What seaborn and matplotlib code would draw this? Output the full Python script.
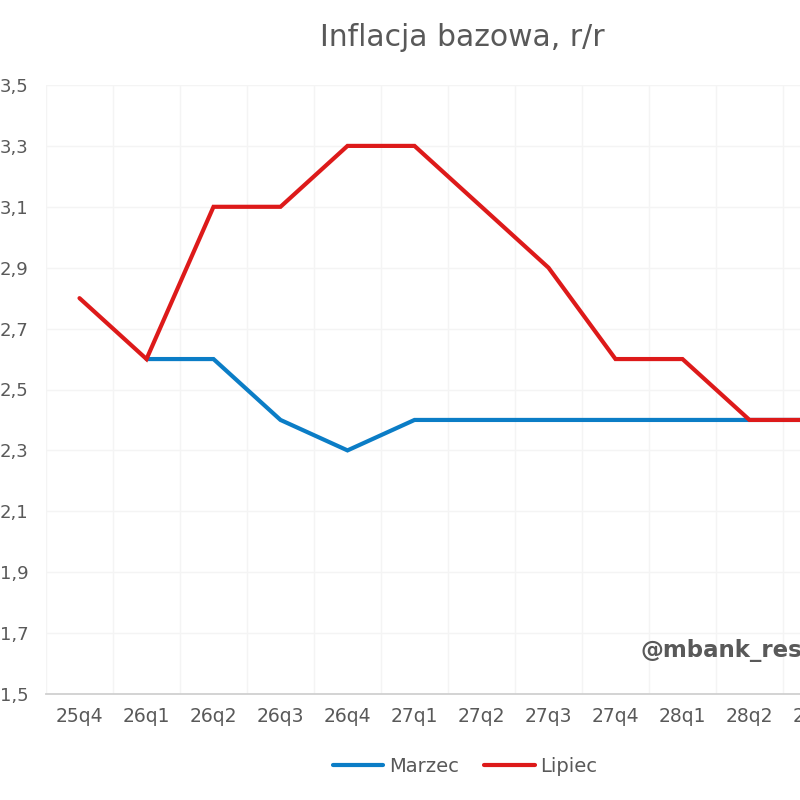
import matplotlib
matplotlib.use("Agg")
import matplotlib.pyplot as plt
import seaborn as sns
import pandas as pd
import numpy as np
from matplotlib.ticker import FixedLocator, FixedFormatter
from matplotlib.lines import Line2D

categories = ["25q4", "26q1", "26q2", "26q3", "26q4", "27q1", "27q2",
              "27q3", "27q4", "28q1", "28q2", "28q3"]
marzec = [np.nan, 2.6, 2.6, 2.4, 2.3, 2.4, 2.4, 2.4, 2.4, 2.4, 2.4, 2.4]
lipiec = [2.8, 2.6, 3.1, 3.1, 3.3, 3.3, 3.1, 2.9, 2.6, 2.6, 2.4, 2.4]
y_ticks = [1.5, 1.7, 1.9, 2.1, 2.3, 2.5, 2.7, 2.9, 3.1, 3.3, 3.5]
y_labels = ["1,5", "1,7", "1,9", "2,1", "2,3", "2,5", "2,7", "2,9", "3,1", "3,3", "3,5"]

sns.set_theme(style="white")
plt.rcParams['font.family'] = ['DejaVu Sans']

df = pd.DataFrame({
    "pos": list(range(len(categories))) * 2,
    "value": marzec + lipiec,
    "series": ["Marzec"] * len(categories) + ["Lipiec"] * len(categories),
})

fig = plt.figure(figsize=(8, 8), dpi=100)
ax = fig.add_axes([46/800, 106/800, 804/800, 609/800])

palette = {"Marzec": "#0b7dc6", "Lipiec": "#dd1a1a"}
sns.lineplot(data=df, x="pos", y="value", hue="series", palette=palette,
             hue_order=["Marzec", "Lipiec"], linewidth=3.0, ax=ax,
             legend=False, solid_capstyle="round", solid_joinstyle="miter")

ax.set_xlim(-0.5, len(categories) - 0.5)
ax.set_ylim(1.5, 3.5)
ax.xaxis.set_major_locator(FixedLocator(range(len(categories))))
ax.xaxis.set_major_formatter(FixedFormatter(categories))
ax.xaxis.set_minor_locator(FixedLocator(np.arange(-0.5, len(categories), 1.0)))
ax.yaxis.set_major_locator(FixedLocator(y_ticks))
ax.yaxis.set_major_formatter(FixedFormatter(y_labels))

ax.grid(True, which="major", axis="y", color="#f4f4f4", linewidth=1)
ax.grid(True, which="minor", axis="x", color="#f4f4f4", linewidth=1)
ax.grid(False, which="major", axis="x")
ax.set_axisbelow(True)

for s in ["top", "right", "left"]:
    ax.spines[s].set_visible(False)
ax.spines["bottom"].set_color("#d0d0d0")
ax.spines["bottom"].set_linewidth(1.3)

ax.tick_params(axis="x", which="both", length=0, pad=9, labelsize=13.5, labelcolor="#595959")
ax.tick_params(axis="y", length=0, pad=12.5, labelsize=13, labelcolor="#595959")
ax.set_xlabel("")
ax.set_ylabel("")

fig.text(462/800, 1 - 38/800, "Inflacja bazowa, r/r", ha="center", va="center",
         fontsize=21.5, color="#595959")

fig.text(640/800, 1 - 650/800, "@mbank_research",
         ha="left", va="center", fontsize=16.5, fontweight="bold",
         fontstretch="normal", color="#595959")

handles = [Line2D([0], [0], color=palette["Marzec"], lw=3.0, solid_capstyle="round"),
           Line2D([0], [0], color=palette["Lipiec"], lw=3.0, solid_capstyle="round")]
fig.legend(handles, ["Marzec", "Lipiec"], loc="center", bbox_to_anchor=(465/800, 1 - 766/800),
           ncol=2, frameon=False, fontsize=14, labelcolor="#595959",
           handlelength=2.6, handletextpad=0.3, columnspacing=1.3)

fig.savefig("out.png", dpi=100, facecolor="white")
